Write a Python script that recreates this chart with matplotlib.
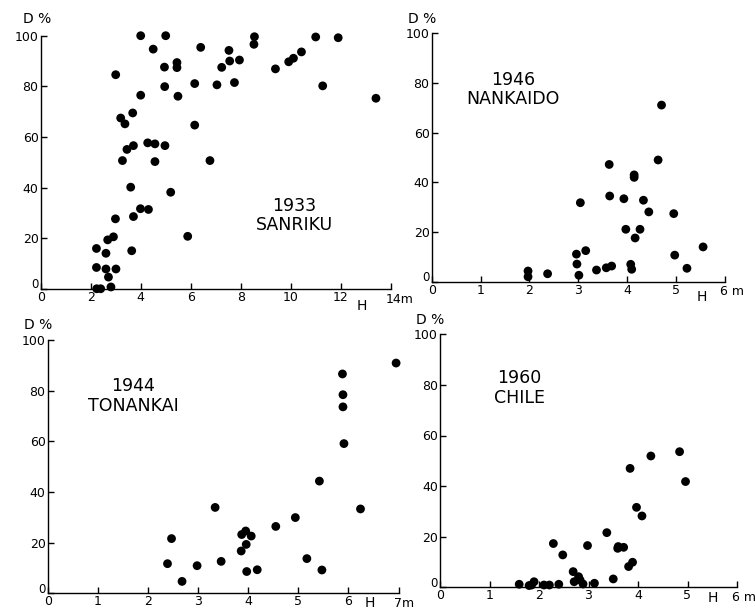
import numpy as np
import matplotlib
matplotlib.use('Agg')
from matplotlib import pyplot as plt
import matplotlib.transforms as mtransforms

# damage ratio D (%) against tsunami height H (m)
sanriku_h = [4.0, 5.0, 4.5, 6.4, 8.55, 8.53, 11.0, 11.9, 3.0, 4.95, 5.45, 5.45, 7.24, 7.53,
             7.56, 7.95, 9.39, 9.92, 10.11, 10.43, 4.96, 6.16, 7.05, 7.75, 11.28, 13.41,
             4.0, 5.49, 3.2, 3.37, 3.68, 6.16, 3.45, 3.71, 4.28, 4.57, 4.97, 3.27, 4.57,
             6.77, 3.6, 5.2, 3.99, 4.31, 3.71, 2.99, 5.88, 2.91, 2.68, 2.23, 3.64, 2.61,
             2.23, 2.61, 3.01, 2.71, 2.24, 2.4, 2.81]
sanriku_d = [100, 100, 94.7, 95.4, 99.6, 96.6, 99.5, 99.2, 84.6, 87.6, 89.4, 87.4, 87.5, 94.2,
             90.0, 90.4, 86.9, 89.7, 91.1, 93.6, 79.9, 81.1, 80.6, 81.5, 80.2, 75.3,
             76.5, 76.1, 67.5, 65.2, 69.5, 64.7, 55.1, 56.6, 57.7, 57.3, 56.6, 50.7, 50.3,
             50.7, 40.2, 38.2, 31.7, 31.4, 28.6, 27.7, 20.8, 20.6, 19.4, 16.0, 15.1, 14.1,
             8.5, 7.9, 7.9, 4.7, 0.1, 0.1, 0.8]

nankaido_h = [1.97, 1.97, 2.37, 2.96, 2.97, 3.01, 3.04, 3.15, 3.37, 3.57, 3.68, 3.63, 3.64,
              3.93, 3.97, 4.07, 4.09, 4.14, 4.14, 4.16, 4.26, 4.33, 4.44, 4.63, 4.70, 4.95,
              4.97, 5.22, 5.55]
nankaido_d = [4.3, 2.0, 3.2, 11.1, 7.1, 2.6, 31.8, 12.5, 4.7, 5.6, 6.3, 47.2, 34.5,
              33.4, 21.1, 7.0, 5.0, 43.0, 42.0, 17.6, 21.1, 32.8, 28.1, 49.0, 71.1, 27.4,
              10.7, 5.4, 14.0]

tonankai_h = [2.39, 2.47, 2.68, 2.98, 3.34, 3.46, 3.86, 3.87, 3.95, 3.96, 4.06, 3.97, 4.18,
              4.55, 4.94, 5.17, 5.42, 5.47, 5.88, 5.89, 5.89, 5.91, 6.24, 6.95]
tonankai_d = [11.7, 21.6, 4.7, 10.9, 33.9, 12.6, 16.7, 23.2, 24.6, 19.3, 22.6, 8.6, 9.3,
              26.4, 29.9, 13.7, 44.3, 9.2, 86.6, 78.4, 73.6, 59.1, 33.3, 90.9]

chile_h = [1.60, 1.80, 1.85, 1.90, 2.10, 2.21, 2.40, 2.29, 2.48, 2.69, 2.71, 2.80, 2.83,
           2.89, 2.98, 3.12, 3.37, 3.50, 3.59, 3.60, 3.71, 3.81, 3.89, 3.84, 3.97, 4.08,
           4.26, 4.84, 4.96]
chile_d = [1.2, 0.7, 0.9, 2.2, 0.9, 0.9, 1.2, 17.3, 12.8, 6.2, 2.2, 4.2, 2.9,
           1.3, 16.5, 1.6, 21.6, 3.3, 15.4, 16.1, 15.8, 8.2, 9.9, 47.0, 31.6, 28.2,
           51.9, 53.6, 41.8]

W, H = 755, 609
fig = plt.figure(figsize=(W/100, H/100), dpi=100)

tick_fs = 9
title_fs = 12.5


def make_axes(left, right, top, bottom):
	#pixel box of the plotting area -> figure fractions
	return fig.add_axes([left/W, 1-bottom/H, (right-left)/W, (bottom-top)/H])


def draw_panel(ax, h, d, xmax, unit, unit_x, title, tx, ty, hx, hy, dx, dy):
	ax.scatter(h, d, s=40, c='black', edgecolors='none', clip_on=False, zorder=3)
	ax.set_xlim(0, xmax)
	ax.set_ylim(0, 100)
	ax.spines[['top', 'right']].set_visible(False)
	for s in ['left', 'bottom']:
		ax.spines[s].set_linewidth(1.0)
	xstep = 2 if xmax > 10 else 1
	xt = np.arange(0, xmax + 0.1, xstep)
	ax.set_xticks(xt)
	ax.set_xticklabels(['%d' % v for v in xt[:-1]] + [''])
	ax.set_yticks([0, 20, 40, 60, 80, 100])
	ax.tick_params(axis='both', direction='in', length=4, width=1.0, labelsize=tick_fs, pad=1.5)
	#nudge the y "0" up so it sits clear of the x "0", as in the scan
	lab0 = ax.get_yticklabels()[0]
	lab0.set_transform(lab0.get_transform() + mtransforms.ScaledTranslation(0, 4/72, fig.dpi_scale_trans))
	lab0.set_fontsize(tick_fs - 0.5)
	#unit on the last x tick, H label below the axis
	ax.text(unit_x, -1.5, unit, fontsize=tick_fs, ha='left', va='top')
	ax.text(hx, hy, 'H', fontsize=tick_fs + 1, ha='center', va='top')
	ax.text(dx, dy, 'D %', fontsize=tick_fs + 1, ha='center', va='bottom')
	ax.text(tx, ty, title, fontsize=title_fs, ha='center', va='center', linespacing=1.1)


ax1 = make_axes(40.7, 390.7, 35.7, 289)
draw_panel(ax1, sanriku_h, sanriku_d, 14, '14m', 13.8, '1933\nSANRIKU', 10.13, 29.1, 12.84, -4.0, -0.15, 104)

ax2 = make_axes(431.7, 725.1, 33.3, 281.7)
draw_panel(ax2, nankaido_h, nankaido_d, 6, '6 m', 5.9, '1946\nNANKAIDO', 1.66, 77.3, 5.52, -3.5, -0.2, 103)

ax3 = make_axes(47.7, 398.6, 340, 593.3)
draw_panel(ax3, tonankai_h, tonankai_d, 7, '7m', 6.9, '1944\nTONANKAI', 1.70, 77.9, 6.43, -1.2, -0.2, 103)

ax4 = make_axes(440, 737, 334.3, 587.3)
draw_panel(ax4, chile_h, chile_d, 6, '6 m', 5.9, '1960\nCHILE', 1.60, 78.8, 5.52, -1.5, -0.2, 103)

plt.savefig('out.png', dpi=100)
